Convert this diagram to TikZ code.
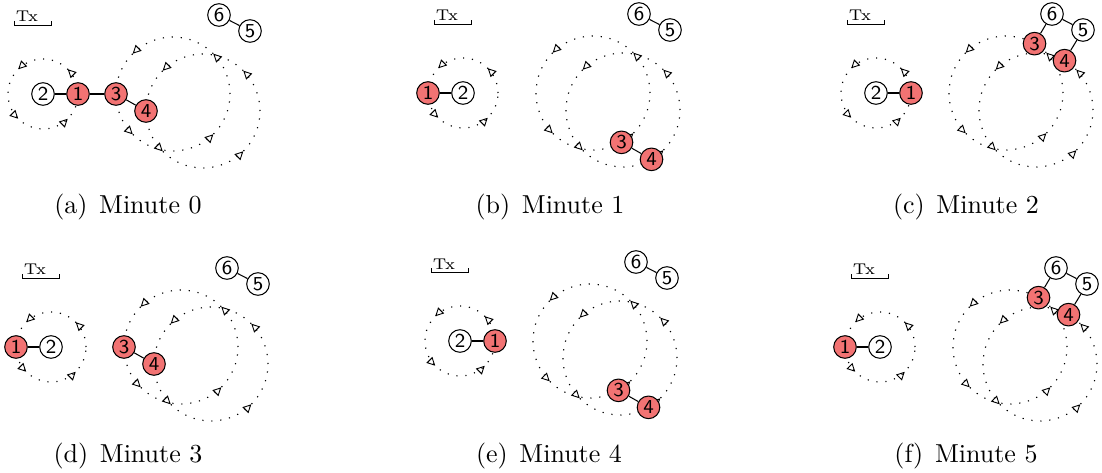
\documentclass[tikz,border=0pt]{standalone}
\usepackage{xcolor}
\usepackage{tikz}
\usetikzlibrary{arrows.meta,decorations.markings}
\definecolor{satred}{RGB}{242,115,115}

\begin{document}
\begin{tikzpicture}[x=0.385pt, y=0.385pt,
	sat/.style={circle, minimum size=8.7pt, inner sep=0pt, draw=black, line width=0.4pt, fill=white, font=\fontsize{7.6}{8}\selectfont\sffamily},
	sattx/.style={sat, fill=satred},
	orbit/.style={line width=0.45pt, dash pattern=on 0.45pt off 3pt, postaction={decorate},
		decoration={markings, mark=between positions 0.125 and 0.875 step 0.25 with {\arrow{Triangle[open, length=3.2pt, width=3.2pt, line width=0.35pt]}}}},
	link/.style={line width=0.4pt},
	txlabel/.style={font=\fontsize{6}{7}\selectfont, inner sep=0pt, anchor=base},
	subcap/.style={font=\normalsize, inner sep=0pt, anchor=base}]
	\useasboundingbox (0,0) rectangle (1102,472);
	% panel / orbit centre / angle of 1 / angle of 3,4 / caption / minute / links
	\foreach \p/\ax/\ay/\sa/\ba/\cx/\cy/\m/\links in {
		a/173/378/0/180/128/258/0/{2/1,1/3,3/4,6/5},
		b/593/379/180/-60/550/258/1/{1/2,3/4,6/5},
		c/1006/379/0/60/966/258/2/{2/1,3/6,6/5,5/4},
		d/181/125/180/180/128/10/3/{1/2,3/4,6/5},
		e/590/131/0/-60/549/10/4/{2/1,3/4,6/5},
		f/1010/125/180/60/966/10/5/{1/2,3/6,6/5,5/4}}{
	\begin{scope}[shift={(\ax,\ay)}]
		\draw[orbit] (-130,0) circle[radius=35];
		\draw[orbit] (0,0) circle[radius=57];
		\draw[orbit] (30,-17) circle[radius=57];
		\draw[line width=0.35pt] (-159,73) -- (-159,69) -- (-122,69) -- (-122,73);
		\node[txlabel] at (-146,72)(\p tx){Tx};
		\node[sat] at (-130,0)(\p2){2};
		\node[sattx] at ({-130+35*cos(\sa)},0)(\p1){1};
		\node[sattx] at (\ba:57)(\p3){3};
		\node[sattx] at ({30+57*cos(\ba)},{-17+57*sin(\ba)})(\p4){4};
		\node[sat] at (46,79)(\p6){6};
		\node[sat] at (77,63)(\p5){5};
		\foreach \u/\v in \links {\draw[link](\p\u) -- (\p\v);}
	\end{scope}
	\node[subcap] at (\cx,\cy)(\p cap){(\p)\hspace{4.5pt}Minute \m};
	}
\end{tikzpicture}
\end{document}
